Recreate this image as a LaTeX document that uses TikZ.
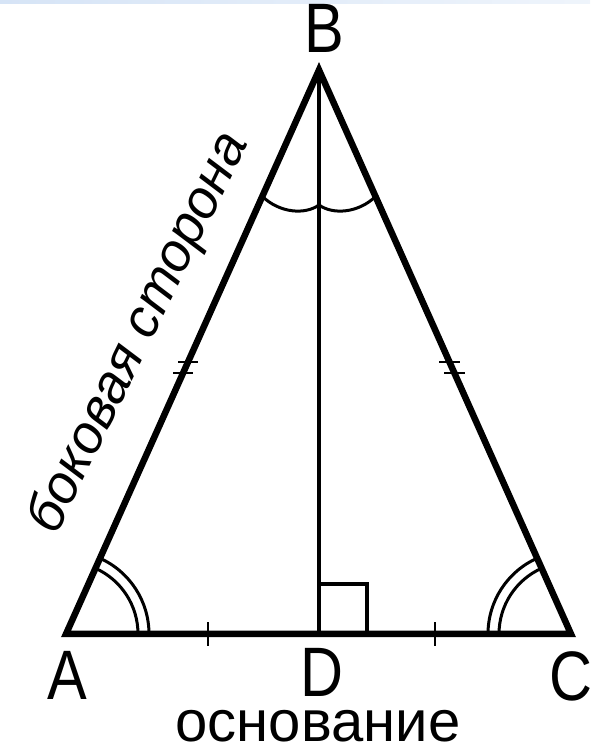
\documentclass[tikz,border=0pt]{standalone}
\usepackage{fontspec}
\setmainfont{Liberation Sans}
\usetikzlibrary{angles}
\definecolor{bandblue}{RGB}{214,228,246}
\begin{document}
\begin{tikzpicture}[x=1pt,y=1pt,
  trside/.style={line width=6.5pt, line join=miter},
  altline/.style={line width=4.5pt},
  tickmark/.style={line width=2.5pt},
  anglearc/.style={draw, line width=3pt},
  vlabel/.style={font=\fontsize{70}{70}\selectfont, xscale=0.85, inner sep=0pt, anchor=base}
]
\useasboundingbox (0,0) rectangle (590,750);
\shade[left color=bandblue, right color=bandblue!40] (0,746) rectangle (590,750);
\coordinate (A) at (66,116);
\coordinate (B) at (319,680);
\coordinate (C) at (571,116);
\coordinate (D) at (319,116);
\draw[trside] (A) -- (B) -- (C) -- cycle;
\draw[altline] (B) -- (D);
\coordinate (Q1) at (319,166);
\coordinate (Q2) at (367,166);
\coordinate (Q3) at (367,116);
\draw[line width=3.5pt] (Q1) -- (Q2) -- (Q3);
\pic[anglearc, angle radius=72pt] {angle=C--A--B};
\pic[anglearc, angle radius=83pt] {angle=C--A--B};
\pic[anglearc, angle radius=72pt] {angle=B--C--A};
\pic[anglearc, angle radius=83pt] {angle=B--C--A};
% apex angle marks
\coordinate (P1) at (263,553);
\coordinate (P2) at (319,545);
\coordinate (P3) at (375,553);
\draw[line width=3pt] (P1) .. controls (280,537) and (305,535) .. (P2);
\draw[line width=3pt] (P3) .. controls (358,537) and (333,535) .. (P2);
% base ticks
\coordinate (t1a) at (208,104); \coordinate (t1b) at (208,128);
\coordinate (t2a) at (435,104); \coordinate (t2b) at (435,128);
\draw[tickmark] (t1a) -- (t1b);
\draw[tickmark] (t2a) -- (t2b);
% side ticks
\coordinate (l1a) at (178,388); \coordinate (l1b) at (198,388);
\coordinate (l2a) at (173,377); \coordinate (l2b) at (193,377);
\coordinate (r1a) at (439,388); \coordinate (r1b) at (460,388);
\coordinate (r2a) at (444,377); \coordinate (r2b) at (465,377);
\draw[tickmark] (l1a) -- (l1b);
\draw[tickmark] (l2a) -- (l2b);
\draw[tickmark] (r1a) -- (r1b);
\draw[tickmark] (r2a) -- (r2b);
% labels
\node[vlabel] (lB) at (324,697) {B};
\node[vlabel] (lA) at (67,50) {A};
\node[vlabel] (lD) at (322,53) {D};
\node[vlabel] (lC) at (571,49) {C};
\node[font=\fontsize{58}{58}\selectfont, anchor=base, inner sep=0pt] (osn) at (318,9) {основание};
\node[font=\itshape\fontsize{54}{54}\selectfont, rotate=64, anchor=mid, inner sep=0pt] (lat) at (150,412) {боковая сторона};
\end{tikzpicture}
\end{document}
